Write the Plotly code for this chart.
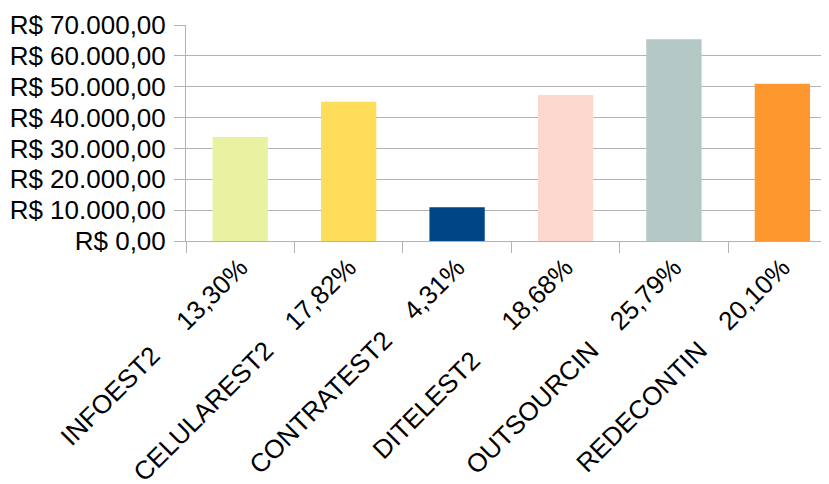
import plotly.graph_objects as go

categories = ["INFOEST2", "CELULAREST2", "CONTRATEST2", "DITELEST2", "OUTSOURCIN", "REDECONTIN"]
percent_labels = ["13,30%", "17,82%", "4,31%", "18,68%", "25,79%", "20,10%"]
gap_spaces = [5, 4, 4, 6, 4, 4]
values = [33700, 45150, 10920, 47330, 65350, 50930]
colors = ["#e8f2a1", "#fedd5a", "#004586", "#fdd8ce", "#b4c9c5", "#ff972f"]
y_ticks = [0, 10000, 20000, 30000, 40000, 50000, 60000, 70000]
y_tick_labels = ["R$ 0,00", "R$ 10.000,00", "R$ 20.000,00", "R$ 30.000,00",
                 "R$ 40.000,00", "R$ 50.000,00", "R$ 60.000,00", "R$ 70.000,00"]

labels = [c + "\u00a0" * g + p for c, g, p in zip(categories, gap_spaces, percent_labels)]

fig = go.Figure(go.Bar(x=labels, y=values, marker=dict(color=colors, line=dict(width=0)),
                       width=0.51))

yfont = dict(family="Liberation Sans, Arial, sans-serif", size=26, color="#000000")
xfont = dict(family="Liberation Sans, Arial, sans-serif", size=26, color="#000000")
grid = "#b3b3b3"

fig.update_layout(
    width=821, height=476,
    margin=dict(l=178, r=0, t=17, b=243),
    paper_bgcolor="white", plot_bgcolor="white",
    showlegend=False,
    font=yfont,
    xaxis=dict(
        range=[-0.5, 5.43], tickangle=-45, tickfont=xfont,
        ticks="outside", ticklen=11, tickcolor=grid, tickwidth=1,
        tickson="boundaries", showgrid=False,
        showline=True, linecolor=grid, linewidth=1,
        automargin=False, fixedrange=True,
    ),
    yaxis=dict(
        range=[0, 70000], tickvals=y_ticks, ticktext=y_tick_labels, tickfont=yfont,
        ticks="outside", ticklen=11, tickcolor=grid, tickwidth=1,
        ticklabelstandoff=3,
        showgrid=True, gridcolor=grid, gridwidth=1,
        showline=True, linecolor=grid, linewidth=1,
        zeroline=False, automargin=False, fixedrange=True,
    ),
)

fig.write_html("out.html")
